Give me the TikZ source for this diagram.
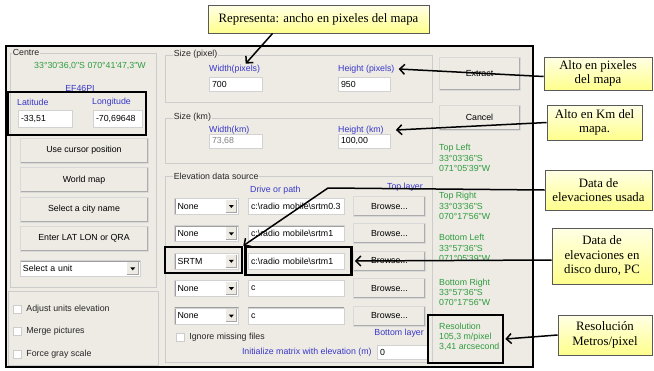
\documentclass[tikz,border=0pt]{standalone}
\usepackage{fontspec}
\setmainfont{Liberation Serif}
\newfontfamily\dlgfont{Liberation Sans}
\newfontfamily\notefont{Liberation Serif}
\usepackage{tikz}
\usetikzlibrary{arrows.meta, positioning, matrix}
\definecolor{dlgbg}{RGB}{238,235,229}
\definecolor{grn}{RGB}{45,155,60}
\definecolor{blu}{RGB}{55,55,200}
\newcommand\sunk{\draw[gray!75, line width=2pt] (path picture bounding box.south west) |- (path picture bounding box.north east);}
\newcommand\dropbtn{\fill[dlgbg] ([shift={(-13pt,-1.5pt)}]path picture bounding box.north east) rectangle ([shift={(-1.5pt,1.5pt)}]path picture bounding box.south east);
    \draw[gray!70, line width=0.8pt] ([shift={(-13pt,2pt)}]path picture bounding box.south east) -| ([shift={(-2pt,-1.5pt)}]path picture bounding box.north east);
    \fill[black] ([shift={(-9.75pt,1.2pt)}]path picture bounding box.east) -- ++(5pt,0pt) -- ++(-2.5pt,-3pt) -- cycle;}

\begin{document}
\begin{tikzpicture}[x=1pt, y=-1pt, font=\dlgfont\fontsize{8.8}{10.3}\selectfont,
    grp/.style={draw=gray!40, line width=0.7pt, inner sep=0pt},
    glbl/.style={fill=dlgbg, inner sep=1pt, text=black!85},
    lbl/.style={inner sep=1pt, text=black!85},
    bluetxt/.style={inner sep=1pt, text=blu},
    greentxt/.style={inner sep=1pt, text=grn, align=left},
    tbox/.style={fill=white, draw=gray!35, inner xsep=3pt, inner ysep=0pt, minimum height=16pt, align=left, path picture={\sunk}},
    combo/.style={tbox, path picture={\sunk\dropbtn}},
    btn/.style={fill=dlgbg, draw=gray!30, inner sep=1pt, path picture={\draw[gray!65, line width=2.4pt] (path picture bounding box.south west) -| (path picture bounding box.north east);}},
    chk/.style={fill=white, draw=gray!40, minimum size=8pt, inner sep=0pt, path picture={\sunk}},
    hilite/.style={draw, line width=2.6pt, inner sep=0pt},
    note/.style={draw=black!65, line width=0.8pt, top color=yellow!10, bottom color=yellow!45, align=center, inner sep=1pt, font=\notefont\fontsize{12.8}{14.5}\selectfont},
    conn/.style={line width=1.5pt, -{Straight Barb[length=5pt, width=10pt]}}]
    \useasboundingbox (0,0) rectangle (654,370);
    \fill[white] (0,0) rectangle (654,370);
    \node[draw, line width=2.2pt, fill=dlgbg, minimum width=527pt, minimum height=321pt, inner sep=0pt] (dlg) at (269.5,206.5) {};

    \node[grp, minimum width=146pt, minimum height=234pt] (gctr) at (83,170) {};
    \node[glbl, right=2pt of gctr.north west] (tctr) {Centre};
    \node[greentxt] (cpos) at (90,66) {33°30'36,0"S 070°41'47,3"W};
    \node[bluetxt] (cqra) at (80,88) {EF46PI};
    \node[bluetxt, anchor=west] (llat) at (16,102) {Latitude};
    \node[bluetxt, anchor=west] (llon) at (91,102) {Longitude};
    \node[tbox, text width=48pt, minimum height=17pt] (vlat) at (45,118.5) {-33,51};
    \node[tbox, text width=43pt, minimum height=17pt] (vlon) at (117.5,118.5) {-70,69648};
    \matrix (btns) [matrix of nodes, inner sep=0pt, row sep=4pt,
        nodes={btn, minimum width=128pt, minimum height=25pt, anchor=center}] at (84,194.5) {
        Use cursor position \\
        World map \\
        Select a city name \\
        Enter LAT LON or QRA \\
    };
    \node[combo, text width=114pt] (cunit) at (80,268.5) {Select a unit};

    \node[grp, minimum width=150pt, minimum height=74pt] (gchk) at (83,328) {};
    \node[chk] (ck1) at (17,309) {};
    \node[lbl, right=4pt of ck1] (tk1) {Adjust units elevation};
    \node[chk] (ck2) at (17,331) {};
    \node[lbl, right=4pt of ck2] (tk2) {Merge pictures};
    \node[chk] (ck3) at (17,354) {};
    \node[lbl, right=4pt of ck3] (tk3) {Force gray scale};

    \node[grp, minimum width=267pt, minimum height=47pt] (gpix) at (298.5,78.5) {};
    \node[glbl, right=8pt of gpix.north west] (tpix) {Size (pixel)};
    \node[bluetxt, anchor=west] (lwpx) at (208,69) {Width(pixels)};
    \node[tbox, text width=47pt, minimum height=14pt] (vwpx) at (235.5,84) {700};
    \node[bluetxt, anchor=west] (lhpx) at (337,69) {Height (pixels)};
    \node[tbox, text width=46pt, minimum height=14pt] (vhpx) at (364,84) {950};

    \node[grp, minimum width=267pt, minimum height=45pt] (gkm) at (298.5,140.5) {};
    \node[glbl, right=8pt of gkm.north west] (tkm) {Size (km)};
    \node[bluetxt, anchor=west] (lwkm) at (208,130) {Width(km)};
    \node[tbox, text width=47pt, minimum height=14pt, text=gray] (vwkm) at (235.5,141) {73,68};
    \node[bluetxt, anchor=west] (lhkm) at (337,130) {Height (km)};
    \node[tbox, text width=46pt, minimum height=14pt] (vhkm) at (364,141) {100,00};

    \node[grp, minimum width=267pt, minimum height=186pt] (gelv) at (298.5,269.5) {};
    \node[glbl, right=8pt of gelv.north west] (telv) {Elevation data source};
    \node[bluetxt, anchor=west] (ldrv) at (249,190) {Drive or path};
    \node[bluetxt, anchor=east] (ltop) at (424,187) {Top layer};
    \matrix (elv) [matrix of nodes, inner sep=0pt, column sep=9pt, row sep=7pt, nodes={anchor=center},
        column 1/.style={nodes={combo, text width=58pt}},
        column 2/.style={nodes={tbox, text width=90pt}},
        column 3/.style={nodes={btn, minimum width=72pt, minimum height=20pt}}] at (300,261) {
        None & c:\textbackslash radio mobile\textbackslash srtm0.3 & Browse... \\
        None & c:\textbackslash radio mobile\textbackslash srtm1 & Browse... \\
        SRTM & c:\textbackslash radio mobile\textbackslash srtm1 & Browse... \\
        None & c & Browse... \\
        None & c & Browse... \\
    };
    \node[chk] (ck4) at (180,337) {};
    \node[lbl, right=4pt of ck4] (tk4) {Ignore missing files};
    \node[bluetxt, anchor=east] (lbot) at (425,333) {Bottom layer};
    \node[tbox, text width=45pt, minimum height=14pt] (vini) at (402.5,352) {0};
    \node[bluetxt, left=4pt of vini] (lini) {Initialize matrix with elevation (m)};

    \node[btn, minimum width=81pt, minimum height=33pt] (bext) at (479.5,73.5) {Extract};
    \node[btn, minimum width=81pt, minimum height=25pt] (bcan) at (479.5,117.5) {Cancel};
    \node[greentxt, anchor=west] (ptl) at (438,158) {Top Left\\33°03'36"S\\071°05'39"W};
    \node[greentxt, anchor=west] (ptr) at (438,206) {Top Right\\33°03'36"S\\070°17'56"W};
    \node[greentxt, anchor=west] (pbl) at (438,248) {Bottom Left\\33°57'36"S\\071°05'39"W};
    \node[greentxt, anchor=west] (pbr) at (438,292.5) {Bottom Right\\33°57'36"S\\070°17'56"W};
    \node[greentxt, anchor=west] (pres) at (438,337) {Resolution\\105,3 m/pixel\\3,41 arcsecond};

    \node[hilite, minimum width=138pt, minimum height=43pt] (hll) at (77,113.5) {};
    \node[hilite, minimum width=77pt, minimum height=26pt] (hsrtm) at (203.5,260) {};
    \node[hilite, minimum width=106pt, minimum height=28pt] (hpath) at (298.5,261) {};
    \node[hilite, minimum width=75pt, minimum height=48pt] (hres) at (465.5,339) {};

    \node[note, minimum width=221pt, minimum height=28pt] (crep) at (318.5,19) {Representa: ancho en pixeles del mapa};
    \node[note, minimum width=108pt, minimum height=33pt] (cpx) at (598,73.5) {Alto en pixeles\\del mapa};
    \node[note, minimum width=95pt, minimum height=35pt] (ckm) at (594.5,122.5) {Alto en Km del\\mapa.};
    \node[note, minimum width=107pt, minimum height=40pt] (cuse) at (598.5,190) {Data de\\elevaciones usada};
    \node[note, minimum width=100pt, minimum height=56pt] (cdsk) at (602,256) {Data de\\elevaciones en\\disco duro, PC};
    \node[note, minimum width=94pt, minimum height=40pt] (cres) at (605,335) {Resolución\\Metros/pixel};

    \coordinate (kink) at (328,188);
    \draw[conn] ([xshift=65pt]crep.south west) -- ([xshift=11pt]lwpx.north);
    \draw[conn] ([yshift=-3pt]cpx.west) -- ([xshift=3pt]lhpx.east);
    \draw[conn] (ckm.west) -- ([xshift=11pt]lhkm.east);
    \draw[conn] (cuse.west) -- (kink) -- (hsrtm.north east);
    \draw[conn] ([yshift=-4pt]cdsk.west) -- ([xshift=2pt]hpath.east);
    \draw[conn] (cres.west) -- ([xshift=1pt]hres.east);
\end{tikzpicture}
\end{document}
